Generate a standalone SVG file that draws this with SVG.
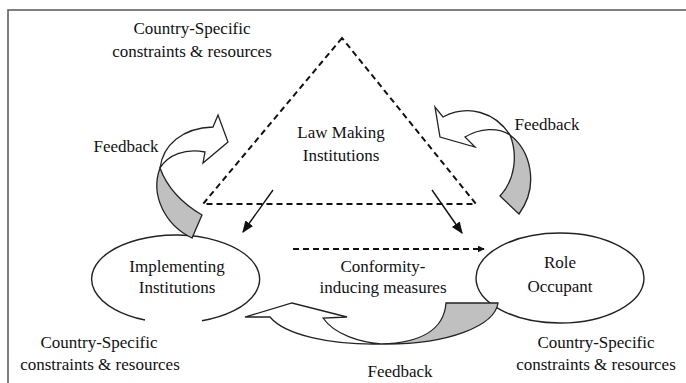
<svg xmlns="http://www.w3.org/2000/svg" width="686" height="383" viewBox="0 0 686 383">
<defs>
<style>
text{font-family:"Liberation Serif","Times New Roman",serif;font-size:17px;fill:#111;text-anchor:middle}
.dash{fill:none;stroke:#111;stroke-width:2;stroke-dasharray:6,4}
.node{fill:#fff;stroke:#222;stroke-width:1.4}
.fbw{fill:#fff;stroke:#222;stroke-width:1.3;stroke-linejoin:miter}
.fbg{fill:#c0c0c0;stroke:#222;stroke-width:1.3}
.con{fill:none;stroke:#111;stroke-width:1.4}
</style>
<marker id="ah" viewBox="0 0 10 10" refX="9" refY="5" markerWidth="7" markerHeight="7" orient="auto" markerUnits="userSpaceOnUse">
<path d="M0,0 L10,5 L0,10 Z" fill="#111"/>
</marker>
<marker id="ahs" viewBox="0 0 10 10" refX="9" refY="5" markerWidth="12" markerHeight="12" orient="auto" markerUnits="userSpaceOnUse">
<path d="M0,1 L10,5 L0,9 Z" fill="#111"/>
</marker>
</defs>
<rect x="8" y="10" width="700" height="400" fill="#fff" stroke="#555" stroke-width="1.5"/>

<g id="law-making">
<path class="dash" d="M342,38 L203,204 L476,204 Z"/>
<text x="341" y="138">Law Making</text>
<text x="341" y="161">Institutions</text>
</g>

<g id="implementing">
<path class="node" fill="none" d="M202,320.8 A84,44 0 1 0 145,320"/>
<text x="177" y="272">Implementing</text>
<text x="177" y="293">Institutions</text>
</g>

<g id="role-occupant">
<ellipse class="node" cx="560" cy="278" rx="84" ry="45"/>
<text x="560" y="268">Role</text>
<text x="560" y="292">Occupant</text>
</g>

<g id="connectors">
<line class="con" x1="273" y1="190" x2="243" y2="232" marker-end="url(#ahs)"/>
<line class="con" x1="432" y1="190" x2="462" y2="233" marker-end="url(#ahs)"/>
<line class="dash" x1="293" y1="249" x2="484" y2="249" marker-end="url(#ah)"/>
</g>

<g id="conformity">
<text x="383" y="272">Conformity-</text>
<text x="383" y="293">inducing measures</text>
</g>

<g id="feedback-left">
<path class="fbw" d="M160,168 C163,145 182,128 213,127 L218,115 L228,142 L203,163 L205,152 C185,148 168,155 160,168 Z"/>
<path class="fbg" d="M160,168 C150,195 165,225 192,238 L202,215 C185,205 168,190 160,168 Z"/>
<text x="126" y="152">Feedback</text>
</g>

<g id="feedback-right">
<path class="fbw" d="M510,135 C495,112 468,104 443,117 L435,107 L440,137 L475,147 L465,137 C480,128 498,127 510,135 Z"/>
<path class="fbg" d="M510,135 C530,150 540,185 519,214 L500,196 C515,180 518,155 510,135 Z"/>
<text x="547" y="130">Feedback</text>
</g>

<g id="feedback-bottom">
<path class="fbw" d="M381,344 C330,345 285,335 270,317 L245,317 L292,303 L347,317 L323,318 C335,335 360,342 381,344 Z"/>
<path class="fbg" d="M381,344 C420,343 444,330 446,303 L498,303 C495,325 450,345 381,344 Z"/>
<text x="400" y="377">Feedback</text>
</g>

<g id="labels">
<text x="192" y="34">Country-Specific</text>
<text x="192" y="57">constraints &amp; resources</text>
<text x="99" y="348">Country-Specific</text>
<text x="100" y="370">constraints &amp; resources</text>
<text x="596" y="348">Country-Specific</text>
<text x="596" y="370">constraints &amp; resources</text>
</g>
</svg>
